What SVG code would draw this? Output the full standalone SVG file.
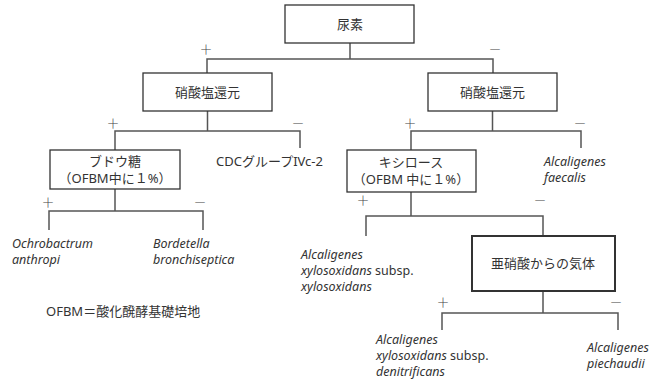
<svg xmlns="http://www.w3.org/2000/svg" width="655" height="384" viewBox="0 0 655 384">
<style>
text{font-family:"Noto Sans","Noto Sans CJK JP",sans-serif;font-size:13px;fill:#333}
.c{text-anchor:middle}
.i{font-style:italic}
.sp{font-size:12.5px}
.box{fill:#fff;stroke:#333;stroke-width:1.3}
.bold{stroke-width:2}
.ln{fill:none;stroke:#555;stroke-width:1.5}
.s{font-family:"Noto Sans CJK JP",sans-serif;font-size:13px;font-weight:300;fill:#444}
</style>
<rect width="655" height="384" fill="#fff"/>
<g id="connectors">
<path class="ln" d="M350 43V59M207 73V59H493V73"/>
<path class="ln" d="M207.5 111V131M115 150V131H300V148"/>
<path class="ln" d="M492.5 111V131M411 150V131H581V148"/>
<path class="ln" d="M115 189V211M49 230V211H203V230"/>
<path class="ln" d="M411 192V216M366 236V216H543V235"/>
<path class="ln" d="M543 291V313M442 330V313H618V330"/>
</g>
<g id="signs">
<text class="c s" x="206" y="54">＋</text>
<text class="c s" x="495" y="54">－</text>
<text class="c s" x="113" y="128">＋</text>
<text class="c s" x="298" y="128">－</text>
<text class="c s" x="410" y="128">＋</text>
<text class="c s" x="580" y="128">－</text>
<text class="c s" x="48" y="207">＋</text>
<text class="c s" x="200" y="207">－</text>
<text class="c s" x="363" y="205">＋</text>
<text class="c s" x="540" y="205">－</text>
<text class="c s" x="443" y="307">＋</text>
<text class="c s" x="616" y="307">－</text>
</g>
<g id="n-urea">
<rect class="box" x="285" y="5" width="129" height="38"/>
<text class="c" x="350" y="29">尿素</text>
</g>
<g id="n-nitrate-left">
<rect class="box" x="143" y="73" width="129" height="38"/>
<text class="c" x="207.5" y="97">硝酸塩還元</text>
</g>
<g id="n-nitrate-right">
<rect class="box" x="428" y="73" width="129" height="38"/>
<text class="c" x="492.5" y="97">硝酸塩還元</text>
</g>
<g id="n-glucose">
<rect class="box" x="50" y="150" width="130" height="39"/>
<text class="c" x="115" y="166">ブドウ糖</text>
<text class="c" x="115" y="183">（OFBM中に１%）</text>
</g>
<g id="n-cdc">
<text x="216" y="166">CDCグループIVc-2</text>
</g>
<g id="n-xylose">
<rect class="box" x="347" y="150" width="129" height="42"/>
<text class="c" x="411" y="167">キシロース</text>
<text class="c" x="411" y="184">（OFBM 中に１%）</text>
</g>
<g id="n-faecalis">
<text class="i sp" x="544" y="166">Alcaligenes</text>
<text class="i sp" x="544" y="182">faecalis</text>
</g>
<g id="n-ochro">
<text class="i sp" x="12" y="248">Ochrobactrum</text>
<text class="i sp" x="12" y="264">anthropi</text>
</g>
<g id="n-bord">
<text class="i sp" x="153" y="248">Bordetella</text>
<text class="i sp" x="153" y="264">bronchiseptica</text>
</g>
<g id="n-xylo">
<text class="i sp" x="301" y="259">Alcaligenes</text>
<text class="sp" x="301" y="275"><tspan class="i">xylosoxidans</tspan> subsp.</text>
<text class="i sp" x="301" y="291">xylosoxidans</text>
</g>
<g id="n-nitrite">
<rect class="box bold" x="472" y="236" width="143" height="55"/>
<text class="c" x="543" y="268">亜硝酸からの気体</text>
</g>
<g id="n-denit">
<text class="i sp" x="376" y="344">Alcaligenes</text>
<text class="sp" x="376" y="360"><tspan class="i">xylosoxidans</tspan> subsp.</text>
<text class="i sp" x="376" y="376">denitrificans</text>
</g>
<g id="n-piech">
<text class="i sp" x="587" y="352">Alcaligenes</text>
<text class="i sp" x="587" y="368">piechaudii</text>
</g>
<g id="legend">
<text x="46" y="316">OFBM＝酸化醗酵基礎培地</text>
</g>
</svg>
